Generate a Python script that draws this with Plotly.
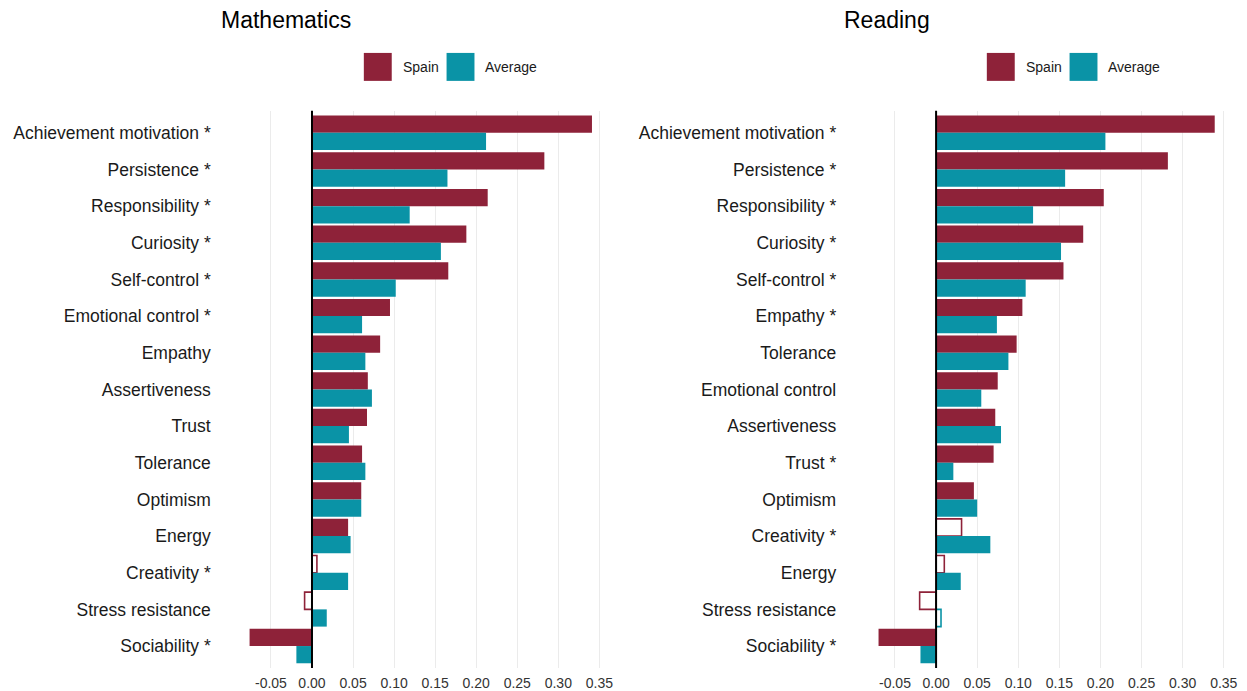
import plotly.graph_objects as go

# ---- data -------------------------------------------------------------
math_labels = ["Achievement motivation *", "Persistence *", "Responsibility *", "Curiosity *",
               "Self-control *", "Emotional control *", "Empathy", "Assertiveness", "Trust",
               "Tolerance", "Optimism", "Energy", "Creativity *", "Stress resistance",
               "Sociability *"]
math_spain = [0.341, 0.283, 0.214, 0.188, 0.166, 0.095, 0.083, 0.068, 0.067, 0.061,
              0.060, 0.044, 0.006, -0.009, -0.076]
math_average = [0.212, 0.165, 0.119, 0.157, 0.102, 0.061, 0.065, 0.073, 0.045, 0.065,
                0.060, 0.047, 0.044, 0.018, -0.019]
math_spain_sig = [True] * 12 + [False, False, True]
math_average_sig = [True] * 15

read_labels = ["Achievement motivation *", "Persistence *", "Responsibility *", "Curiosity *",
               "Self-control *", "Empathy *", "Tolerance", "Emotional control", "Assertiveness",
               "Trust *", "Optimism", "Creativity *", "Energy", "Stress resistance",
               "Sociability *"]
read_spain = [0.339, 0.282, 0.204, 0.179, 0.155, 0.105, 0.098, 0.075, 0.072, 0.070,
              0.046, 0.031, 0.010, -0.020, -0.070]
read_average = [0.206, 0.157, 0.118, 0.152, 0.109, 0.074, 0.088, 0.055, 0.079, 0.021,
                0.050, 0.066, 0.030, 0.006, -0.019]
read_spain_sig = [True] * 11 + [False, False, False, True]
read_average_sig = [True] * 13 + [False, True]

x_tickvals = [-0.05, 0.00, 0.05, 0.10, 0.15, 0.20, 0.25, 0.30, 0.35]
x_ticktext = ["-0.05", "0.00", "0.05", "0.10", "0.15", "0.20", "0.25", "0.30", "0.35"]

series_names = ["Spain", "Average"]
panel_titles = ["Mathematics", "Reading"]

# ---- styling ----------------------------------------------------------
W, H = 1247, 691
SPAIN = "#8E2239"
AVG = "#0A93A6"
FONT = "Liberation Sans, Arial, sans-serif"


def px_x(v):
    return v / W


def px_y(v):
    return 1 - v / H


def bar_style(sig, color):
    fill = [color if s else "white" for s in sig]
    widths = [0 if s else 1.6 for s in sig]
    return dict(color=fill, line=dict(color=color, width=widths))


fig = go.Figure()

panels = [
    (math_labels, math_spain, math_average, math_spain_sig, math_average_sig, "x", "y"),
    (read_labels, read_spain, read_average, read_spain_sig, read_average_sig, "x2", "y2"),
]
for labels, spain, avg, s_sig, a_sig, xa, ya in panels:
    fig.add_trace(go.Bar(y=labels, x=spain, orientation="h", name=series_names[0],
                         marker=bar_style(s_sig, SPAIN), xaxis=xa, yaxis=ya,
                         showlegend=False, hoverinfo="x+y"))
    fig.add_trace(go.Bar(y=labels, x=avg, orientation="h", name=series_names[1],
                         marker=bar_style(a_sig, AVG), xaxis=xa, yaxis=ya,
                         showlegend=False, hoverinfo="x+y"))

y_domain = [px_y(669), px_y(111)]
n = len(math_labels)

common_x = dict(tickvals=x_tickvals, ticktext=x_ticktext, showgrid=True,
                gridcolor="#EBEBEB", gridwidth=1.4, zeroline=False, showline=False,
                ticks="", ticklabelstandoff=5,
                tickfont=dict(size=14, color="#333333", family=FONT), fixedrange=True)
common_y = dict(type="category", range=[n - 0.4, -0.6], showgrid=False, zeroline=False,
                showline=False, ticks="",
                tickfont=dict(size=17.5, color="#1A1A1A", family=FONT), fixedrange=True)

fig.update_layout(
    width=W, height=H,
    margin=dict(l=0, r=0, t=0, b=0),
    paper_bgcolor="white", plot_bgcolor="white",
    barmode="group", bargap=0.06, bargroupgap=0,
    font=dict(family=FONT),
    xaxis=dict(domain=[px_x(240.5), px_x(612)], range=[-0.088, 0.363], anchor="y", **common_x),
    xaxis2=dict(domain=[px_x(869), px_x(1237.6)], range=[-0.085, 0.362], anchor="y2", **common_x),
    yaxis=dict(domain=y_domain, anchor="x", categoryarray=math_labels,
               ticklabelstandoff=28, **common_y),
    yaxis2=dict(domain=y_domain, anchor="x2", categoryarray=read_labels,
                ticklabelstandoff=29, **common_y),
)

# zero reference line above the bars
for xr, yr in [("x", "y"), ("x2", "y2")]:
    fig.add_shape(type="line", xref=xr, yref=f"{yr} domain", x0=0, x1=0, y0=0, y1=1,
                  line=dict(color="black", width=2), layer="above")

# panel titles
for title, left in zip(panel_titles, [220, 845]):
    fig.add_annotation(text=title, xref="paper", yref="paper", x=px_x(left), y=px_y(20),
                       xanchor="left", yanchor="middle", showarrow=False,
                       font=dict(size=23, color="black", family=FONT))

# per-panel legends: coloured squares with labels
for sq1, sq2 in [(365, 448), (990, 1073)]:
    for left, color, name in [(sq1, SPAIN, series_names[0]), (sq2, AVG, series_names[1])]:
        fig.add_shape(type="rect", xref="paper", yref="paper",
                      x0=px_x(left), x1=px_x(left + 28), y0=px_y(81), y1=px_y(53),
                      fillcolor=color, line=dict(width=0))
        fig.add_annotation(text=name, xref="paper", yref="paper", x=px_x(left + 37),
                           y=px_y(67), xanchor="left", yanchor="middle", showarrow=False,
                           font=dict(size=14, color="#1A1A1A", family=FONT))

fig.write_html("out.html")
